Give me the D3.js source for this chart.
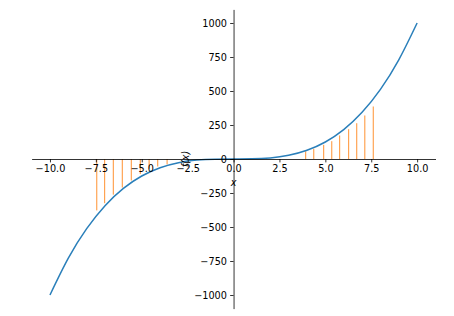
<!DOCTYPE html>
<html>
<head>
<meta charset="utf-8">
<script src="https://cdn.jsdelivr.net/npm/d3@7"></script>
<style>
  html, body { margin: 0; padding: 0; background: #fff; }
  svg { display: block; }
  text { font-family: "DejaVu Sans", sans-serif; }
</style>
</head>
<body>
<svg id="chart" width="454" height="316"></svg>
<script>
// Curve samples
const curveX = [-10, -9, -8, -7, -6, -5, -4, -3, -2, -1, 0, 1, 2, 3, 4, 5, 6, 7, 8, 9, 10];
const curveY = [-1000, -729, -512, -343, -216, -125, -64, -27, -8, -1, 0, 1, 8, 27, 64, 125, 216, 343, 512, 729, 1000];

// Orange vertical lines (x position, height)
const stemX = [-7.45, -7.02, -6.55, -6.06, -5.57, -5.08, -4.6, -4.13, -3.62,
               3.93, 4.37, 4.91, 5.35, 5.78, 6.27, 6.71, 7.15, 7.61];
const stemY = [-378, -325, -262, -210, -158, -110, -72, -55, -40,
               57, 75, 104, 131, 173, 219, 263, 320, 386];

const xTicks = [-10, -7.5, -5, -2.5, 0, 2.5, 5, 7.5, 10];
const yTicks = [-1000, -750, -500, -250, 0, 250, 500, 750, 1000];

const svg = d3.select("#chart");
const x = d3.scaleLinear().domain([-11, 11]).range([31.6, 435.5]);
const y = d3.scaleLinear().domain([-1100, 1100]).range([308.6, 9.4]);

const fmtMinus = s => s.replace("-", "\u2212");
const fs = 9.7;

// stems
svg.append("g").selectAll("line").data(stemX).join("line")
  .attr("x1", d => x(d)).attr("x2", d => x(d))
  .attr("y1", y(0)).attr("y2", (d, i) => y(stemY[i]))
  .attr("stroke", "#ff7f0e").attr("stroke-opacity", 0.85).attr("stroke-width", 1);

// curve
const pts = curveX.map((d, i) => [d, curveY[i]]);
svg.append("path").datum(pts)
  .attr("d", d3.line().x(d => x(d[0])).y(d => y(d[1])).curve(d3.curveNatural))
  .attr("fill", "none").attr("stroke", "#2a7fba").attr("stroke-width", 1.5);

// x axis at y=0
const xAxis = d3.axisBottom(x).tickValues(xTicks).tickSizeInner(3.4).tickSizeOuter(0).tickPadding(3.2)
  .tickFormat(d => fmtMinus(d3.format(".1f")(d)));
const gx = svg.append("g").attr("transform", `translate(0,${y(0)})`).call(xAxis);
gx.select(".domain").attr("stroke", "#000").attr("stroke-width", 0.8);
gx.selectAll(".tick line").attr("stroke", "#000").attr("stroke-width", 0.8);
gx.selectAll(".tick text").attr("font-size", fs).attr("fill", "#000").style("font-family", "DejaVu Sans");

// y axis at x=0
const yAxis = d3.axisLeft(y).tickValues(yTicks).tickSizeInner(3.4).tickSizeOuter(0).tickPadding(3.2)
  .tickFormat(d => fmtMinus(d3.format("d")(d)));
const gy = svg.append("g").attr("transform", `translate(${x(0)},0)`).call(yAxis);
gy.select(".domain").attr("stroke", "#000").attr("stroke-width", 0.8);
gy.selectAll(".tick line").attr("stroke", "#000").attr("stroke-width", 0.8);
gy.selectAll(".tick text").attr("font-size", fs).attr("fill", "#000").style("font-family", "DejaVu Sans");

// axis labels
svg.append("text").attr("x", x(0)).attr("y", 186)
  .attr("text-anchor", "middle").attr("font-size", fs).attr("font-style", "italic")
  .style("font-family", "DejaVu Sans").text("x");
svg.append("text")
  .attr("transform", `translate(189,${y(0)}) rotate(-90)`)
  .attr("text-anchor", "middle").attr("font-size", fs).attr("font-style", "italic")
  .style("font-family", "DejaVu Sans").text("f(x)");
</script>
</body>
</html>
